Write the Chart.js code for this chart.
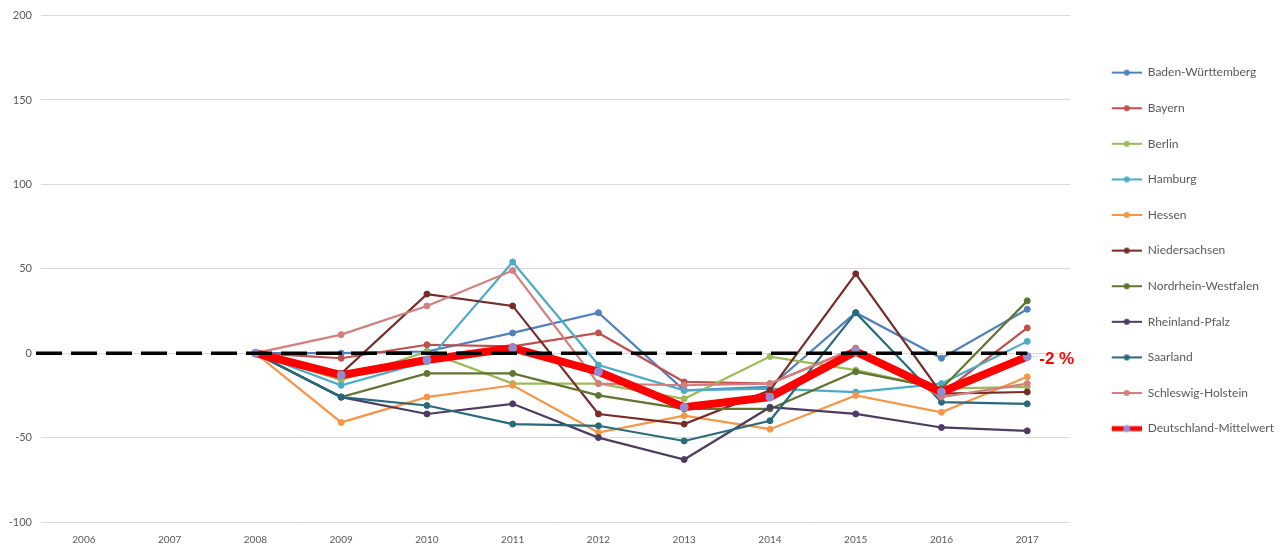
<!DOCTYPE html>
<html>
<head>
<meta charset="utf-8">
<script src="https://cdn.jsdelivr.net/npm/chart.js@4.4.0/dist/chart.umd.min.js"></script>
<style>
  body { margin: 0; background: #ffffff; }
  #wrap { width: 1284px; height: 547px; }
</style>
</head>
<body>
<div id="wrap"><canvas id="chart" width="1284" height="547"></canvas></div>
<script>
// Jahre (Kategorien)
const years = ['2006', '2007', '2008', '2009', '2010', '2011', '2012', '2013', '2014', '2015', '2016', '2017'];

// Veränderung in %, 2006/2007 ohne Werte
const badenWuerttemberg = [null, null, 0, 0, 1, 12, 24, -22, -20, 24, -3, 26];
const bayern            = [null, null, 0, -3, 5, 4, 12, -17, -18, 3, -24, 15];
const berlin            = [null, null, 0, -16, 1, -18, -18, -27, -2, -10, -21, -20];
const hamburg           = [null, null, 0, -19, -5, 54, -7, -22, -21, -23, -18, 7];
const hessen            = [null, null, 0, -41, -26, -19, -47, -37, -45, -25, -35, -14];
const niedersachsen     = [null, null, 0, -12, 35, 28, -36, -42, -22, 47, -24, -23];
const nrw               = [null, null, 0, -26, -12, -12, -25, -33, -33, -11, -21, 31];
const rheinlandPfalz    = [null, null, 0, -26, -36, -30, -50, -63, -32, -36, -44, -46];
const saarland          = [null, null, 0, -26, -31, -42, -43, -52, -40, 24, -29, -30];
const schleswigHolstein = [null, null, 0, 11, 28, 49, -18, -19, -18, 3, -26, -18];
const mittelwert        = [null, null, 0, -13, -4, 3, -11, -32, -26, 1, -23, -2];

// y-Achse
const yMin = -100;
const yMax = 200;
const yStep = 50;

const laender = [
  { label: 'Baden-Württemberg', data: badenWuerttemberg, color: '#4f81bd' },
  { label: 'Bayern', data: bayern, color: '#c0504d' },
  { label: 'Berlin', data: berlin, color: '#9bbb59' },
  { label: 'Hamburg', data: hamburg, color: '#4bacc6' },
  { label: 'Hessen', data: hessen, color: '#f79646' },
  { label: 'Niedersachsen', data: niedersachsen, color: '#772c2a' },
  { label: 'Nordrhein-Westfalen', data: nrw, color: '#5f7530' },
  { label: 'Rheinland-Pfalz', data: rheinlandPfalz, color: '#4d3b62' },
  { label: 'Saarland', data: saarland, color: '#276a7c' },
  { label: 'Schleswig-Holstein', data: schleswigHolstein, color: '#d47f7d' }
];

const meanColor = '#ff0000';
const meanDot = '#8e8ed0';

// Legendensymbol: Linie mit Punkt, links etwas Leerraum
const iconGap = 18;
function legendIcon(lineColor, dotColor, thick) {
  const c = document.createElement('canvas');
  c.width = iconGap + 30; c.height = 10;
  const g = c.getContext('2d');
  g.strokeStyle = lineColor;
  g.lineWidth = thick ? 5 : 2;
  g.beginPath(); g.moveTo(iconGap, 5); g.lineTo(iconGap + 30, 5); g.stroke();
  g.fillStyle = dotColor;
  g.beginPath(); g.arc(iconGap + 15, 5, thick ? 3.5 : 3, 0, Math.PI * 2); g.fill();
  return c;
}

const datasets = laender.map((l, i) => ({
  label: l.label,
  data: l.data,
  borderColor: l.color,
  backgroundColor: l.color,
  pointBackgroundColor: l.color,
  pointBorderColor: l.color,
  borderWidth: 2.2,
  pointRadius: 3,
  pointBorderWidth: 1,
  pointHoverRadius: 3,
  tension: 0,
  order: laender.length - i + 1,
  icon: legendIcon(l.color, l.color, false)
}));

datasets.push({
  label: 'Deutschland-Mittelwert',
  data: mittelwert,
  borderColor: meanColor,
  backgroundColor: meanColor,
  pointBackgroundColor: meanDot,
  pointBorderColor: meanDot,
  borderWidth: 8,
  pointRadius: 4,
  pointBorderWidth: 1,
  pointHoverRadius: 4,
  tension: 0,
  order: 0,
  icon: legendIcon(meanColor, meanDot, true)
});

// gestrichelte Nulllinie bis zum letzten Jahr
const zeroLine = {
  id: 'zeroLine',
  afterDatasetsDraw(chart) {
    const { ctx, chartArea, scales } = chart;
    const y = scales.y.getPixelForValue(0);
    const xEnd = scales.x.getPixelForValue(years.length - 1);
    ctx.save();
    ctx.strokeStyle = '#000000';
    ctx.lineWidth = 3.5;
    ctx.setLineDash([26, 9]);
    ctx.beginPath();
    ctx.moveTo(chartArea.left - 5, y);
    ctx.lineTo(xEnd, y);
    ctx.stroke();
    ctx.restore();
  }
};

// Beschriftung des letzten Mittelwerts
const meanLabel = {
  id: 'meanLabel',
  afterDatasetsDraw(chart) {
    const idx = chart.data.datasets.length - 1;
    const meta = chart.getDatasetMeta(idx);
    const last = years.length - 1;
    const pt = meta.data[last];
    const { ctx } = chart;
    ctx.save();
    ctx.strokeStyle = '#a6a6a6';
    ctx.lineWidth = 1;
    ctx.setLineDash([1, 2]);
    ctx.beginPath();
    ctx.moveTo(pt.x + 6, pt.y);
    ctx.lineTo(pt.x + 11, pt.y);
    ctx.stroke();
    ctx.fillStyle = meanColor;
    ctx.font = 'bold 17px "Liberation Sans", Arial, sans-serif';
    ctx.textAlign = 'left';
    ctx.textBaseline = 'middle';
    ctx.fillText(mittelwert[last] + ' %', pt.x + 12, pt.y + 3);
    ctx.restore();
  }
};

Chart.defaults.font.family = "Lato, 'Open Sans', sans-serif";
Chart.defaults.font.size = 10;
Chart.defaults.color = '#595959';

new Chart(document.getElementById('chart').getContext('2d'), {
  type: 'line',
  data: { labels: years, datasets: datasets },
  options: {
    responsive: false,
    animation: false,
    layout: { padding: { top: 9, right: 0, bottom: 0, left: 0 } },
    plugins: {
      tooltip: { enabled: false },
      legend: {
        position: 'right',
        align: 'start',
        title: { display: true, text: ' ', padding: { top: 12, bottom: 10 } },
        labels: {
          usePointStyle: true,
          pointStyleWidth: iconGap + 30,
          padding: 23.6,
          font: { size: 12 },
          color: '#595959',
          sort: (a, b) => a.datasetIndex - b.datasetIndex,
          generateLabels(chart) {
            const items = Chart.defaults.plugins.legend.labels.generateLabels(chart);
            items.forEach(it => { it.pointStyle = chart.data.datasets[it.datasetIndex].icon; });
            return items;
          }
        }
      }
    },
    scales: {
      x: {
        offset: true,
        grid: { display: false },
        border: { display: false },
        ticks: { padding: 4, maxRotation: 0 },
        afterFit(s) { s.height = 25; }
      },
      y: {
        min: yMin,
        max: yMax,
        ticks: { stepSize: yStep, padding: 9, font: { size: 11 } },
        grid: { color: '#d9d9d9', lineWidth: 1, drawTicks: false },
        border: { display: false },
        afterFit(s) { s.width = 41; }
      }
    }
  },
  plugins: [zeroLine, meanLabel]
});
</script>
</body>
</html>
